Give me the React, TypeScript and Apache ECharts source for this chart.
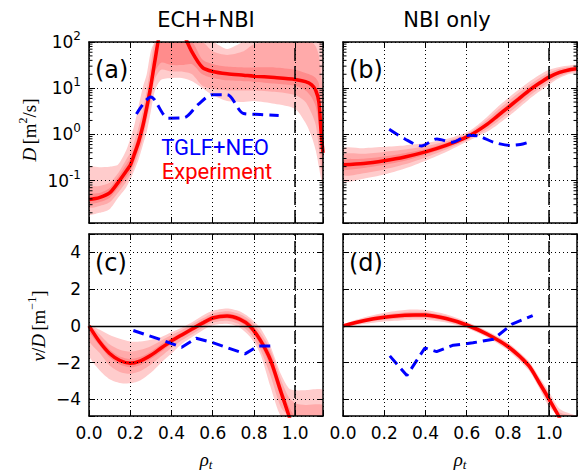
import React, { useEffect, useRef } from 'react';
import * as echarts from 'echarts';

const SANS = "'DejaVu Sans', sans-serif";
const SERIF = "'Liberation Serif', 'DejaVu Serif', serif";
const LEG = "Roboto, 'DejaVu Sans', sans-serif";

const XMAX = 1.135;
const LOG_MIN = -1.92;
const LOG_MAX = 2;
const VD_MIN = -4.9;
const VD_MAX = 5;

const OUTER = '#ffcccc';
const MID = '#ffaaaa';
const INNER = '#ff8c8c';
const RED = '#ff0000';
const BLUE = '#0000ff';

// ---------- Panel (a): ECH+NBI, log10 D [m^2/s] ----------
const xA = [0, 0.05, 0.1, 0.14, 0.18, 0.2, 0.22, 0.24, 0.26, 0.28, 0.3, 0.32, 0.35, 0.4, 0.45, 0.5, 0.55, 0.6, 0.67, 0.75, 0.8, 0.9, 1.0, 1.05, 1.08, 1.1, 1.115, 1.125, 1.135];
const expLogDA = [-1.41, -1.37, -1.27, -1.05, -0.8, -0.67, -0.43, -0.17, 0.16, 0.58, 1.05, 1.6, 2.3, 2.6, 2.25, 1.78, 1.45, 1.36, 1.31, 1.28, 1.26, 1.23, 1.19, 1.14, 1.07, 0.95, 0.7, 0.1, -0.4];
const innerLoA = [-1.5, -1.47, -1.38, -1.17, -0.93, -0.8, -0.58, -0.33, -0.02, 0.4, 0.85, 1.35, 1.55, 1.5, 1.5, 1.52, 1.3, 1.22, 1.17, 1.15, 1.14, 1.1, 1.05, 0.95, 0.8, 0.6, 0.2, -0.3, -0.7];
const innerHiA = [-1.3, -1.27, -1.16, -0.93, -0.66, -0.52, -0.28, 0.0, 0.35, 0.78, 1.27, 1.85, 2.6, 2.9, 2.6, 2.0, 1.62, 1.52, 1.47, 1.45, 1.45, 1.45, 1.4, 1.33, 1.28, 1.22, 1.1, 0.6, 0.1];
const midLoA = [-1.58, -1.55, -1.47, -1.27, -1.03, -0.88, -0.68, -0.42, -0.12, 0.3, 0.72, 1.2, 1.4, 1.36, 1.36, 1.3, 1.05, 0.98, 0.95, 0.95, 0.95, 0.92, 0.85, 0.7, 0.45, 0.2, -0.3, -0.7, -1.0];
const midHiA = [-1.15, -1.12, -1.05, -0.85, -0.55, -0.4, -0.15, 0.15, 0.5, 0.95, 1.5, 2.1, 2.8, 3, 3, 2.5, 2.0, 1.8, 1.72, 1.8, 1.95, 2.2, 2.2, 2.1, 2.0, 1.9, 1.7, 1.3, 0.9];
const outerLoA = [-1.73, -1.7, -1.62, -1.38, -1.15, -0.98, -0.78, -0.55, -0.25, 0.05, 0.5, 0.95, 1.18, 1.22, 1.22, 1.15, 1.0, 0.85, 0.72, 0.7, 0.72, 0.66, 0.55, 0.25, -0.05, -0.35, -0.7, -0.95, -1.1];
const outerHiA = [-0.71, -0.71, -0.7, -0.66, -0.35, -0.1, 0.2, 0.6, 1.0, 1.3, 1.8, 2.3, 3, 3, 3, 3, 3, 2.1, 1.85, 2.2, 2.5, 2.5, 2.5, 2.5, 2.5, 2.4, 2.2, 2.0, 1.7];
const tglfXA = [0.23, 0.3, 0.385, 0.46, 0.53, 0.6, 0.67, 0.75, 0.83, 0.92];
const tglfLogDA = [0.44, 0.81, 0.35, 0.36, 0.65, 0.86, 0.86, 0.45, 0.43, 0.41];

// ---------- Panel (b): NBI only, log10 D ----------
const xB = [0, 0.1, 0.2, 0.3, 0.4, 0.5, 0.6, 0.65, 0.7, 0.75, 0.8, 0.85, 0.9, 0.95, 1.0, 1.05, 1.1, 1.135];
const expLogDB = [-0.66, -0.63, -0.57, -0.49, -0.38, -0.24, -0.06, 0.07, 0.22, 0.4, 0.58, 0.76, 0.94, 1.1, 1.24, 1.34, 1.4, 1.42];
const innerLoB = [-0.76, -0.73, -0.66, -0.57, -0.44, -0.29, -0.10, 0.03, 0.17, 0.34, 0.52, 0.70, 0.88, 1.05, 1.19, 1.30, 1.37, 1.39];
const innerHiB = [-0.56, -0.53, -0.48, -0.41, -0.32, -0.19, -0.02, 0.11, 0.27, 0.46, 0.64, 0.82, 1.00, 1.15, 1.29, 1.38, 1.43, 1.45];
const midLoB = [-0.88, -0.84, -0.76, -0.65, -0.50, -0.33, -0.13, -0.01, 0.12, 0.28, 0.45, 0.63, 0.82, 0.99, 1.14, 1.26, 1.34, 1.37];
const midHiB = [-0.44, -0.42, -0.38, -0.33, -0.26, -0.15, 0.01, 0.15, 0.32, 0.52, 0.71, 0.89, 1.06, 1.21, 1.34, 1.42, 1.46, 1.47];
const outerLoB = [-1.01, -0.96, -0.87, -0.74, -0.57, -0.38, -0.16, -0.05, 0.06, 0.21, 0.38, 0.56, 0.75, 0.92, 1.08, 1.22, 1.31, 1.34];
const outerHiB = [-0.31, -0.30, -0.27, -0.24, -0.19, -0.10, 0.04, 0.19, 0.38, 0.59, 0.78, 0.96, 1.13, 1.28, 1.40, 1.46, 1.49, 1.50];
const tglfXB = [0.224, 0.3, 0.38, 0.455, 0.53, 0.61, 0.66, 0.73, 0.81, 0.86, 0.9];
const tglfLogDB = [0.11, -0.1, -0.25, -0.1, -0.17, -0.02, -0.04, -0.17, -0.24, -0.22, -0.17];

// ---------- Panel (c): ECH+NBI, v/D [1/m] ----------
const xC = [0, 0.05, 0.1, 0.15, 0.2, 0.25, 0.3, 0.35, 0.4, 0.45, 0.5, 0.55, 0.6, 0.67, 0.73, 0.78, 0.83, 0.88, 0.93, 0.97, 1.0, 1.05, 1.135];
const expVDC = [0, -0.85, -1.5, -1.88, -2.03, -1.9, -1.6, -1.2, -0.82, -0.49, -0.17, 0.15, 0.43, 0.54, 0.37, 0.0, -0.76, -1.85, -3.55, -4.9, -6, -8, -11];
const innerLoC = [-0.3, -1.05, -1.72, -2.1, -2.25, -2.12, -1.8, -1.4, -0.98, -0.62, -0.3, 0.02, 0.3, 0.4, 0.22, -0.2, -1.0, -2.2, -3.9, -5.4, -6.5, -8.5, -11.5];
const innerHiC = [0.05, -0.65, -1.28, -1.66, -1.8, -1.68, -1.4, -1.0, -0.66, -0.36, -0.04, 0.28, 0.56, 0.68, 0.52, 0.18, -0.55, -1.5, -3.2, -4.4, -5.5, -7.5, -10.5];
const midLoC = [-0.8, -1.45, -2.15, -2.5, -2.6, -2.45, -2.1, -1.65, -1.2, -0.78, -0.45, -0.1, 0.18, 0.28, 0.08, -0.38, -1.25, -2.7, -4.4, -6, -7, -9, -12];
const midHiC = [0.05, -0.45, -1.0, -1.3, -1.4, -1.3, -1.1, -0.8, -0.5, -0.22, 0.08, 0.4, 0.68, 0.8, 0.65, 0.32, -0.35, -1.3, -2.9, -3.9, -4.2, -4.3, -4.3];
const outerLoC = [-1.6, -2.4, -2.9, -3.1, -3.12, -2.95, -2.55, -2.0, -1.5, -0.98, -0.6, -0.25, 0.03, 0.12, -0.08, -0.58, -1.5, -3.3, -5.3, -7, -8, -10, -13];
const outerHiC = [0.05, -0.2, -0.5, -0.7, -0.85, -0.85, -0.75, -0.6, -0.35, -0.1, 0.2, 0.55, 0.82, 0.95, 0.8, 0.45, -0.1, -1.1, -2.6, -3.4, -3.5, -3.5, -3.5];
const tglfXC = [0.215, 0.33, 0.45, 0.52, 0.6, 0.68, 0.757, 0.82, 0.89];
const tglfVDC = [-0.25, -0.68, -1.16, -0.67, -0.91, -1.22, -1.52, -1.09, -1.09];

// ---------- Panel (d): NBI only, v/D ----------
const xD = [0, 0.1, 0.2, 0.3, 0.35, 0.4, 0.5, 0.6, 0.7, 0.8, 0.9, 0.95, 1.0, 1.05, 1.135];
const expVDD = [0, 0.28, 0.47, 0.58, 0.6, 0.59, 0.4, 0.05, -0.45, -1.12, -2.15, -3.05, -4.0, -5.0, -7.0];
const innerLoD = [-0.02, 0.22, 0.39, 0.49, 0.51, 0.50, 0.32, -0.02, -0.52, -1.2, -2.24, -3.15, -4.15, -5.15, -7.2];
const innerHiD = [0.02, 0.34, 0.55, 0.67, 0.69, 0.68, 0.48, 0.12, -0.38, -1.04, -2.06, -2.95, -3.85, -4.85, -6.8];
const midLoD = [-0.05, 0.17, 0.33, 0.42, 0.44, 0.43, 0.26, -0.07, -0.58, -1.27, -2.32, -3.25, -4.25, -5.3, -7.4];
const midHiD = [0.05, 0.39, 0.62, 0.75, 0.77, 0.76, 0.55, 0.17, -0.32, -0.97, -1.98, -2.85, -3.75, -4.7, -6.6];
const outerLoD = [-0.08, 0.1, 0.24, 0.31, 0.33, 0.33, 0.18, -0.13, -0.63, -1.33, -2.4, -3.35, -4.4, -5.5, -7.7];
const outerHiD = [0.08, 0.46, 0.72, 0.87, 0.89, 0.86, 0.63, 0.23, -0.27, -0.91, -1.9, -2.75, -3.6, -4.5, -6.3];
const tglfXD = [0.227, 0.31, 0.397, 0.454, 0.535, 0.63, 0.73, 0.82, 0.92];
const tglfVDD = [-1.63, -2.7, -1.2, -1.4, -1.05, -0.92, -0.72, 0.1, 0.56];

const X_TICK_LABELS = ['0.0', '0.2', '0.4', '0.6', '0.8', '1.0'];
const SEPARATRIX = 1.0;

// minor ticks of the log axes (axis decoration)
const MINOR_LOG_TICKS: number[] = [];
for (let n = -2; n < 2; n++) {
  for (let k = 2; k <= 9; k++) {
    const v = n + Math.log10(k);
    if (v > LOG_MIN && v < LOG_MAX) MINOR_LOG_TICKS.push(v);
  }
}

const pairs = (xs: number[], ys: number[]) => xs.map((x, i) => [x, ys[i]]);

const AXIS_LINE = { show: true, onZero: false, lineStyle: { color: '#000', width: 1.5 } };
const TICK = { show: true, inside: true, length: 6, lineStyle: { color: '#000', width: 1 } };
const GRIDLINE = { show: true, lineStyle: { color: '#000', width: 1, type: [1, 3] } };

function xAxesFor(g: number, labels: boolean) {
  const common = { gridIndex: g, type: 'value', min: 0, max: XMAX, interval: 0.2, z: 6 };
  return [
    {
      ...common,
      position: 'bottom',
      axisLine: AXIS_LINE,
      axisTick: TICK,
      axisLabel: {
        show: labels,
        margin: 8,
        color: '#000',
        fontSize: 17,
        fontFamily: SANS,
        formatter: (v: number) => {
          const i = Math.round(v / 0.2);
          if (Math.abs(v - i * 0.2) > 1e-6) return '';
          return X_TICK_LABELS[i] ?? '';
        },
      },
      splitLine: GRIDLINE,
    },
    {
      ...common,
      position: 'top',
      axisLine: AXIS_LINE,
      axisTick: TICK,
      axisLabel: { show: false },
      splitLine: { show: false },
    },
  ];
}

function yAxesFor(g: number, isLog: boolean, labels: boolean) {
  const common: any = isLog
    ? { gridIndex: g, type: 'value', min: LOG_MIN, max: LOG_MAX, minInterval: 1, maxInterval: 1, z: 6 }
    : { gridIndex: g, type: 'value', min: VD_MIN, max: VD_MAX, minInterval: 2, maxInterval: 2, z: 6 };
  const label = isLog
    ? {
        show: labels,
        margin: 8,
        color: '#000',
        fontFamily: SANS,
        fontSize: 17,
        formatter: (v: number) => {
          const r = Math.round(v);
          if (Math.abs(v - r) > 1e-6) return '';
          return `{b|10}{s|${r}}`;
        },
        rich: {
          b: { fontSize: 17, fontFamily: SANS, color: '#000' },
          s: { fontSize: 12, fontFamily: SANS, color: '#000', padding: [0, 0, 12, 0] },
        },
      }
    : {
        show: labels,
        margin: 8,
        color: '#000',
        fontFamily: SANS,
        fontSize: 17,
        formatter: (v: number) => {
          const r = Math.round(v);
          if (Math.abs(v - r) > 1e-6 || r % 2 !== 0 || Math.abs(r) > 4) return '';
          return r < 0 ? '\u2212' + -r : String(r);
        },
      };
  return [
    { ...common, position: 'left', axisLine: AXIS_LINE, axisTick: TICK, axisLabel: label, splitLine: GRIDLINE },
    { ...common, position: 'right', axisLine: AXIS_LINE, axisTick: TICK, axisLabel: { show: false }, splitLine: { show: false } },
  ];
}

// A filled band between lo and hi, drawn as one polygon through the axis scales.
function bandSeries(g: number, key: string, xs: number[], lo: number[], hi: number[], color: string, yMin: number, yMax: number) {
  const last = xs.length - 1;
  return {
    type: 'custom',
    name: key,
    xAxisIndex: 2 * g,
    yAxisIndex: 2 * g,
    silent: true,
    clip: true,
    data: xs.map((x, i) => [x, lo[i]]),
    renderItem: (params: any, api: any) => {
      if (params.dataIndex !== last) return { type: 'group', children: [] };
      const cy = (v: number) => Math.max(yMin, Math.min(yMax, v));
      const top = xs.map((x, i) => api.coord([x, cy(hi[i])]));
      const bot = xs.map((x, i) => api.coord([x, cy(lo[i])])).reverse();
      const p0 = api.coord([0, yMax]);
      const p1 = api.coord([XMAX, yMin]);
      return {
        type: 'polygon',
        shape: {
          points: [...top, ...bot],
          smooth: 0.25,
          smoothConstraint: [
            [p0[0], p0[1]],
            [p1[0], p1[1]],
          ],
        },
        style: { fill: color },
      };
    },
  };
}

function panelSeries(
  g: number,
  xs: number[],
  center: number[],
  bands: number[][],
  tx: number[],
  ty: number[],
  isLog: boolean,
  blueSmooth: number | boolean
) {
  const [oLo, oHi, mLo, mHi, iLo, iHi] = bands;
  const yMin = isLog ? LOG_MIN : VD_MIN;
  const yMax = isLog ? LOG_MAX : VD_MAX;
  const list: any[] = [
    bandSeries(g, `p${g}-outer`, xs, oLo, oHi, OUTER, yMin, yMax),
    bandSeries(g, `p${g}-mid`, xs, mLo, mHi, MID, yMin, yMax),
    bandSeries(g, `p${g}-inner`, xs, iLo, iHi, INNER, yMin, yMax),
  ];
  const refLines: any[] = [
    { xAxis: SEPARATRIX, lineStyle: { color: '#000', width: 1.5, type: [13, 5] } },
  ];
  if (!isLog) refLines.push({ yAxis: 0, lineStyle: { color: '#000', width: 1.3, type: 'solid' } });
  list.push({
    type: 'line',
    name: `p${g}-ref`,
    xAxisIndex: 2 * g,
    yAxisIndex: 2 * g,
    data: [],
    symbol: 'none',
    silent: true,
    markLine: {
      silent: true,
      symbol: ['none', 'none'],
      label: { show: false },
      animation: false,
      data: refLines,
    },
  });
  list.push({
    type: 'line',
    name: 'Experiment',
    xAxisIndex: 2 * g,
    yAxisIndex: 2 * g,
    data: pairs(xs, center),
    symbol: 'none',
    smooth: 0.25,
    clip: true,
    silent: true,
    lineStyle: { color: RED, width: 3.5 },
  });
  list.push({
    type: 'line',
    name: 'TGLF+NEO',
    xAxisIndex: 2 * g,
    yAxisIndex: 2 * g,
    data: pairs(tx, ty),
    symbol: 'none',
    smooth: blueSmooth,
    clip: true,
    silent: true,
    lineStyle: { color: BLUE, width: 3, type: [11, 6] },
  });
  if (isLog) {
    list.push({
      type: 'custom',
      name: `p${g}-minor`,
      xAxisIndex: 2 * g,
      yAxisIndex: 2 * g,
      silent: true,
      z: 7,
      data: MINOR_LOG_TICKS.map((v) => [0, v]),
      renderItem: (_p: any, api: any) => {
        const v = api.value(1);
        const l = api.coord([0, v]);
        const r = api.coord([XMAX, v]);
        return {
          type: 'group',
          children: [
            { type: 'line', shape: { x1: l[0], y1: l[1], x2: l[0] + 3.5, y2: l[1] }, style: { stroke: '#000', lineWidth: 1 } },
            { type: 'line', shape: { x1: r[0] - 3.5, y1: r[1], x2: r[0], y2: r[1] }, style: { stroke: '#000', lineWidth: 1 } },
          ],
        };
      },
    });
  }
  return list;
}

function buildOption() {
  const gridBase = { containLabel: false, outerBoundsMode: 'none', show: false };
  const grid = [
    { ...gridBase, left: 89, top: 42, width: 234, height: 181 },
    { ...gridBase, left: 343, top: 42, width: 234, height: 181 },
    { ...gridBase, left: 89, top: 234, width: 234, height: 182 },
    { ...gridBase, left: 343, top: 234, width: 234, height: 182 },
  ];
  const xAxis = [...xAxesFor(0, false), ...xAxesFor(1, false), ...xAxesFor(2, true), ...xAxesFor(3, true)];
  const yAxis = [...yAxesFor(0, true, true), ...yAxesFor(1, true, false), ...yAxesFor(2, false, true), ...yAxesFor(3, false, false)];
  const series = [
    ...panelSeries(0, xA, expLogDA, [outerLoA, outerHiA, midLoA, midHiA, innerLoA, innerHiA], tglfXA, tglfLogDA, true, 0.3),
    ...panelSeries(1, xB, expLogDB, [outerLoB, outerHiB, midLoB, midHiB, innerLoB, innerHiB], tglfXB, tglfLogDB, true, 0.3),
    ...panelSeries(2, xC, expVDC, [outerLoC, outerHiC, midLoC, midHiC, innerLoC, innerHiC], tglfXC, tglfVDC, false, false),
    ...panelSeries(3, xD, expVDD, [outerLoD, outerHiD, midLoD, midHiD, innerLoD, innerHiD], tglfXD, tglfVDD, false, false),
  ];
  const txt = (x: number, y: number, text: string, size: number, extra: any = {}) => ({
    type: 'text',
    x,
    y,
    z: 100,
    silent: true,
    style: { text, fontSize: size, fontFamily: SANS, fill: '#000', align: 'center', verticalAlign: 'middle', ...extra },
  });
  const serifRich = {
    i: { fontFamily: SERIF, fontStyle: 'italic', fontSize: 19, fill: '#000' },
    n: { fontFamily: SERIF, fontSize: 19, fill: '#000' },
    s: { fontFamily: SERIF, fontSize: 12, fill: '#000', padding: [0, 0, 12, 0] },
    t: { fontFamily: SERIF, fontStyle: 'italic', fontSize: 13, fill: '#000', padding: [10, 0, 0, 0] },
  };
  const graphic = [
    txt(206, 20, 'ECH+NBI', 21),
    txt(447, 20, 'NBI only', 21),
    txt(95, 70, '(a)', 24, { align: 'left' }),
    txt(349, 70, '(b)', 24, { align: 'left' }),
    txt(95, 263, '(c)', 24, { align: 'left' }),
    txt(349, 263, '(d)', 24, { align: 'left' }),
    txt(215, 147, 'TGLF+NEO', 22, { fill: BLUE, fontFamily: LEG }),
    txt(217, 171, 'Experiment', 22, { fill: RED, fontFamily: LEG }),
    {
      type: 'text',
      x: 29,
      y: 130,
      rotation: Math.PI / 2,
      z: 100,
      silent: true,
      style: { text: '{i|D} {n|[m}{s|2}{n|/s]}', rich: serifRich, align: 'center', verticalAlign: 'middle' },
    },
    {
      type: 'text',
      x: 38,
      y: 326,
      rotation: Math.PI / 2,
      z: 100,
      silent: true,
      style: { text: '{i|v}{n|/}{i|D} {n|[m}{s|\u22121}{n|]}', rich: serifRich, align: 'center', verticalAlign: 'middle' },
    },
    {
      type: 'text',
      x: 206,
      y: 459,
      z: 100,
      silent: true,
      style: { text: '{i|\u03c1}{t|t}', rich: serifRich, align: 'center', verticalAlign: 'middle' },
    },
    {
      type: 'text',
      x: 460,
      y: 459,
      z: 100,
      silent: true,
      style: { text: '{i|\u03c1}{t|t}', rich: serifRich, align: 'center', verticalAlign: 'middle' },
    },
  ];
  return {
    animation: false,
    backgroundColor: '#fff',
    grid,
    xAxis,
    yAxis,
    series,
    graphic,
  };
}

export default function App() {
  const ref = useRef<HTMLDivElement>(null);
  useEffect(() => {
    if (!ref.current) return;
    const chart = echarts.init(ref.current, null, { renderer: 'svg' });
    chart.setOption(buildOption() as any);
    return () => chart.dispose();
  }, []);
  return (
    <div
      ref={ref}
      style={{ position: 'fixed', left: 0, top: 0, width: 578, height: 470, background: '#fff' }}
    />
  );
}
